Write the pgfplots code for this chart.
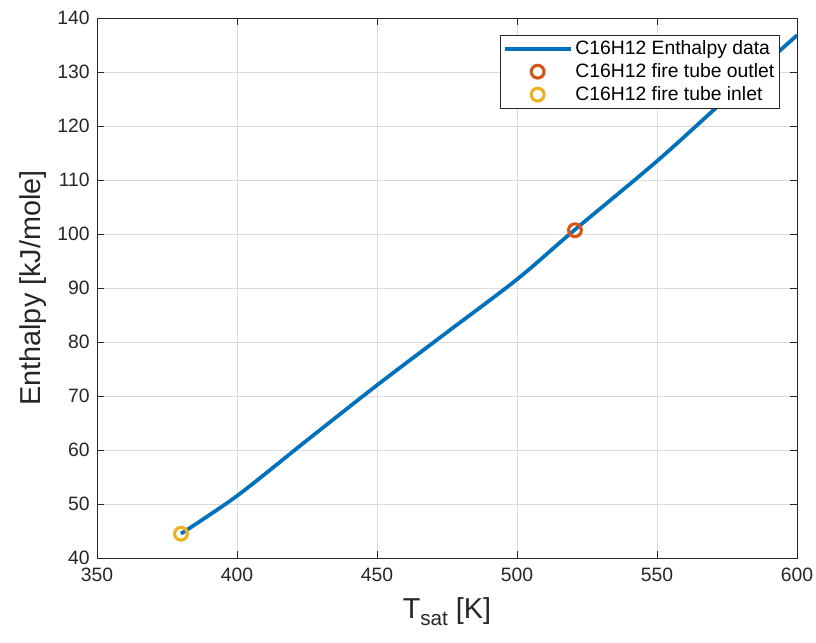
\documentclass[border=0pt]{standalone}
\usepackage{pgfplots}
\pgfplotsset{compat=1.18}
\usepackage{fontspec}
\setmainfont{Liberation Sans}

\definecolor{mblue}{rgb}{0,0.447,0.741}
\definecolor{morange}{rgb}{0.850,0.325,0.098}
\definecolor{myellow}{rgb}{0.929,0.694,0.125}
\definecolor{axgray}{rgb}{0.15,0.15,0.15}

\pgfplotsset{
    linelegend/.style={legend image code/.code={
        \draw[##1] (0cm,0cm) -- (1.75cm,0cm);}},
    marklegend/.style={legend image code/.code={
        \draw[mark repeat=2, mark phase=2, ##1]
            plot coordinates {(0cm,0cm) (0.875cm,0cm) (1.75cm,0cm)};}},
}

\begin{document}
\begin{tikzpicture}
\begin{axis}[
    scale only axis,
    width=525pt, height=405pt,
    xmin=350, xmax=600,
    ymin=40, ymax=140,
    xtick={350,400,...,600},
    ytick={40,50,...,140},
    tick align=inside,
    major tick length=5pt,
    axis line style={axgray, line width=0.6pt},
    every tick/.style={axgray, line width=0.6pt},
    grid=major,
    grid style={gray!28, line width=0.5pt},
    tick label style={font=\fontsize{14.5}{16}\selectfont, text=axgray},
    /pgf/number format/assume math mode=true,
    /pgf/number format/1000 sep={},
    xticklabel style={yshift=-4pt},
    yticklabel style={xshift=-2pt},
    xlabel={T\raisebox{-0.45ex}{\fontsize{15.5}{16}\selectfont sat} [K]},
    ylabel={Enthalpy [kJ/mole]},
    every axis x label/.style={at={(axis description cs:0.5,-0.100)}, anchor=center,
        font=\fontsize{21.6}{24}\selectfont, text=axgray},
    every axis y label/.style={at={(axis description cs:-0.0914,0.5)}, anchor=center,
        rotate=90, font=\fontsize{21.6}{24}\selectfont, text=axgray},
    legend style={at={(axis description cs:0.9757,0.9685)}, anchor=north east,
        draw=axgray, line width=0.6pt, fill=white,
        font=\fontsize{14.5}{16}\selectfont,
        row sep=1.2pt, inner xsep=2pt, inner ysep=2pt,
        legend cell align=left},
]
    \addplot[mblue, line width=2.8pt, smooth, tension=0.5, linelegend] table {
        x y
        380 44.5
        400 51.5
        425 61.8
        450 72.0
        475 81.8
        500 91.6
        520 100.5
        550 113.5
        575 125.2
        600 136.8
    };
    \addlegendentry{C16H12 Enthalpy data}

    \addplot[only marks, mark=o, mark size=4.8pt, morange, line width=2.3pt, marklegend]
        coordinates {(520.7,100.7)};
    \addlegendentry{C16H12 fire tube outlet}

    \addplot[only marks, mark=o, mark size=4.8pt, myellow, line width=2.3pt, marklegend]
        coordinates {(380,44.5)};
    \addlegendentry{C16H12 fire tube inlet}
\end{axis}
\pgfresetboundingbox
\useasboundingbox ([shift={(-72.75pt,-63pt)}]current axis.south west)
    rectangle ([shift={(14.25pt,13.5pt)}]current axis.north east);
\end{tikzpicture}
\end{document}
